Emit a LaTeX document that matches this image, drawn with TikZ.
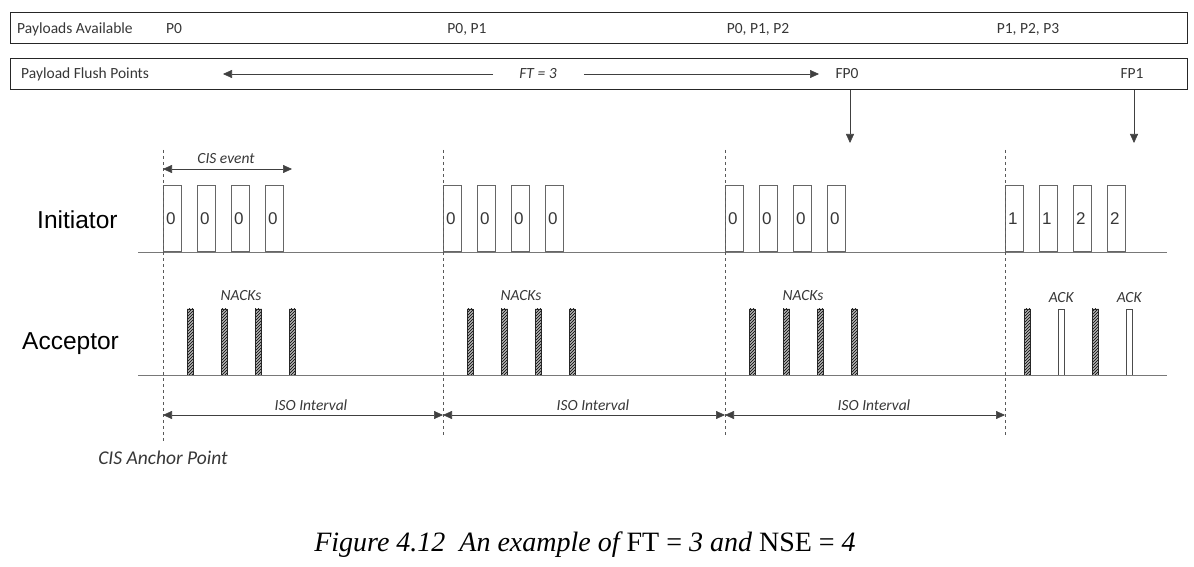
\documentclass[tikz,border=0pt]{standalone}
\usepackage{fontspec}
\setmainfont{Carlito}
\newfontfamily\arialfont{Liberation Sans}
\newfontfamily\figfont{Liberation Serif}
\usepackage{tikz}
\usetikzlibrary{arrows.meta, patterns, positioning}
\definecolor{txtgray}{RGB}{55,55,55}
\definecolor{linegray}{RGB}{120,120,120}

\begin{document}
\begin{tikzpicture}[x=1pt,y=-1pt,>={Triangle[length=9pt,width=8pt]}]
 % styles
 \tikzstyle{rowbox} = [draw=black!85,line width=1.3pt,anchor=north west,minimum height=31pt,minimum width=1177pt,inner sep=0pt];
 \tikzstyle{lbl} = [text=txtgray,font=\fontsize{15.5}{18}\selectfont,inner sep=0pt];
 \tikzstyle{ilbl} = [text=txtgray,font=\fontsize{15.5}{18}\selectfont\itshape,inner sep=0pt];
 \tikzstyle{role} = [font=\arialfont\fontsize{24.5}{28}\selectfont,inner sep=0pt,anchor=west];
 \tikzstyle{pkt} = [draw=black!60,line width=0.6pt,anchor=south west,minimum width=18pt,minimum height=66pt,inner sep=0pt];
 \tikzstyle{nack} = [draw=black!85,preaction={fill=black!30},pattern=north east lines,anchor=south west,minimum width=6pt,minimum height=66pt,inner sep=0pt];
 \tikzstyle{ack} = [draw=black!70,fill=white,anchor=south west,minimum width=6pt,minimum height=66pt,inner sep=0pt];
 \tikzstyle{num} = [font=\arialfont\fontsize{17}{20}\selectfont,text=txtgray,anchor=west,inner sep=0pt];
 \tikzstyle{axis} = [draw=linegray,line width=0.7pt];
 \tikzstyle{grid} = [draw=black!65,dashed,line width=0.6pt];
 \tikzstyle{dim} = [draw=black!75,line width=0.6pt,<->];

 \useasboundingbox (0,0) rectangle (1194,567);

 % nodes
 \node[rowbox] (avail) at (9.5,12) {};
 \node[rowbox] (flush) at (9.5,58) {};
 \node[lbl,anchor=west] (availlbl) at (17,29) {Payloads Available};
 \node[lbl] (pa0) at (174,29) {P0};
 \node[lbl] (pa1) at (467,29) {P0, P1};
 \node[lbl] (pa2) at (758,29) {P0, P1, P2};
 \node[lbl] (pa3) at (1028,29) {P1, P2, P3};
 \node[lbl,anchor=west] (flushlbl) at (21,74) {Payload Flush Points};
 \node[ilbl] (ft) at (538,74) {FT = 3};
 \node[lbl] (fp0) at (847,74) {FP0};
 \node[lbl] (fp1) at (1132,74) {FP1};
 \coordinate (ftl) at (223,74);
 \coordinate (ftr) at (819,74);
 \coordinate (fp0hit) at (850,143);
 \coordinate (fp1hit) at (1134,143);

 \node[role] (init) at (37,220) {Initiator};
 \node[role] (acc) at (22,344) {Acceptor};
 \coordinate (iline0) at (138,252);
 \coordinate (iline1) at (1167,252);
 \coordinate (aline0) at (138,375);
 \coordinate (aline1) at (1167,375);

 \foreach \n/\x in {1/163,2/443,3/725,4/1005} {
   \coordinate (dtop\n) at (\x,150);
   \coordinate (dbot\n) at (\x,435);
 }
 \coordinate (dbot1) at (163,443);
 \coordinate (cisend) at (292,169);
 \coordinate (iso) at (0,415);

 \foreach \g/\x in {1/163,2/443,3/725} {
   \foreach \k in {0,...,3} {
     \node[pkt] (p\g\k) at (\x+34*\k,252) {};
     \node[num] (t\g\k) at ([xshift=3pt]p\g\k.west) {0};
     \node[nack] (n\g\k) at (\x+24+34*\k,375) {};
   }
   \node[ilbl] (nl\g) at (\x+78,296) {NACKs};
 }
 \foreach \k/\d in {0/1,1/1,2/2,3/2} {
   \node[pkt] (p4\k) at (1005+34*\k,252) {};
   \node[num] (t4\k) at ([xshift=3pt]p4\k.west) {\d};
 }
 \node[nack] (n40) at (1024,375) {};
 \node[ack] (a41) at (1058,375) {};
 \node[nack] (n42) at (1092,375) {};
 \node[ack] (a43) at (1126,375) {};
 \node[ilbl,above=6pt of a41] (ack1) {ACK};
 \node[ilbl,above=6pt of a43] (ack2) {ACK};

 \node[ilbl] (cislbl) at (226,159) {CIS event};
 \node[ilbl,font=\fontsize{19.5}{22}\selectfont\itshape,below=8pt of dbot1] (anchor) {CIS Anchor Point};

 \node[font=\figfont\fontsize{28}{32}\selectfont\itshape] (caption) at (585,545)
   {Figure 4.12\ \ An example of {\upshape FT =} 3 and {\upshape NSE =} 4};

 % edges
 \draw[->,draw=black!75,line width=0.6pt] ([xshift=-26pt]ft.west) -- (ftl);
 \draw[->,draw=black!75,line width=0.6pt] ([xshift=27pt]ft.east) -- (ftr);
 \draw[->,draw=black!75,line width=0.6pt] (fp0hit |- flush.south) -- (fp0hit);
 \draw[->,draw=black!75,line width=0.6pt] (fp1hit |- flush.south) -- (fp1hit);

 \draw[axis] (iline0) -- (iline1);
 \draw[axis] (aline0) -- (aline1);
 \foreach \n in {1,2,3,4} {
   \draw[grid] (dtop\n) -- (dbot\n);
 }

 \draw[dim] (dtop1 |- cisend) -- (cisend);
 \draw[dim] (dtop1 |- iso) -- (dtop2 |- iso) node[ilbl,midway,above=4pt,xshift=8pt] (iso1) {ISO Interval};
 \draw[dim] (dtop2 |- iso) -- (dtop3 |- iso) node[ilbl,midway,above=4pt,xshift=9pt] (iso2) {ISO Interval};
 \draw[dim] (dtop3 |- iso) -- (dtop4 |- iso) node[ilbl,midway,above=4pt,xshift=9pt] (iso3) {ISO Interval};
\end{tikzpicture}
\end{document}
